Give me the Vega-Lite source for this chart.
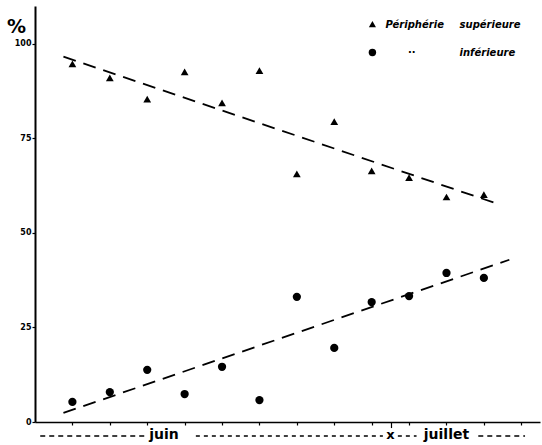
{
  "$schema": "https://vega.github.io/schema/vega-lite/v6.json",
  "width": 505,
  "height": 416,
  "autosize": {"type": "none"},
  "padding": {"left": 35, "top": 6, "right": 2, "bottom": 23},
  "background": "white",
  "config": {
    "view": {"stroke": null},
    "font": "DejaVu Sans"
  },
  "datasets": {
    "mesures": [
      {"jour": 1, "pct": 94.7, "serie": "sup"},
      {"jour": 2, "pct": 91.0, "serie": "sup"},
      {"jour": 3, "pct": 85.4, "serie": "sup"},
      {"jour": 4, "pct": 92.6, "serie": "sup"},
      {"jour": 5, "pct": 84.4, "serie": "sup"},
      {"jour": 6, "pct": 92.9, "serie": "sup"},
      {"jour": 7, "pct": 65.6, "serie": "sup"},
      {"jour": 8, "pct": 79.4, "serie": "sup"},
      {"jour": 9, "pct": 66.4, "serie": "sup"},
      {"jour": 10, "pct": 64.6, "serie": "sup"},
      {"jour": 11, "pct": 59.5, "serie": "sup"},
      {"jour": 12, "pct": 60.1, "serie": "sup"},
      {"jour": 1, "pct": 5.3, "serie": "inf"},
      {"jour": 2, "pct": 7.9, "serie": "inf"},
      {"jour": 3, "pct": 13.8, "serie": "inf"},
      {"jour": 4, "pct": 7.4, "serie": "inf"},
      {"jour": 5, "pct": 14.6, "serie": "inf"},
      {"jour": 6, "pct": 5.8, "serie": "inf"},
      {"jour": 7, "pct": 33.1, "serie": "inf"},
      {"jour": 8, "pct": 19.6, "serie": "inf"},
      {"jour": 9, "pct": 31.7, "serie": "inf"},
      {"jour": 10, "pct": 33.3, "serie": "inf"},
      {"jour": 11, "pct": 39.4, "serie": "inf"},
      {"jour": 12, "pct": 38.1, "serie": "inf"}
    ],
    "tendances": [
      {"jour": 0.76, "pct": 96.6, "serie": "sup"},
      {"jour": 12.36, "pct": 57.7, "serie": "sup"},
      {"jour": 0.76, "pct": 2.4, "serie": "inf"},
      {"jour": 12.68, "pct": 42.9, "serie": "inf"}
    ]
  },
  "layer": [
    {
      "data": {"name": "mesures"},
      "mark": {"type": "point", "filled": true, "color": "black", "opacity": 1},
      "encoding": {
        "x": {
          "field": "jour", "type": "quantitative",
          "scale": {"domain": [0, 13.5], "nice": false, "zero": false},
          "axis": {
            "values": [1, 2, 3, 4, 5, 6, 7, 8, 9, 10, 11, 12, 13],
            "labels": false, "title": null, "grid": false,
            "domainColor": "black", "domainWidth": 1.5,
            "tickColor": "black", "tickWidth": 1.2, "tickSize": 3
          }
        },
        "y": {
          "field": "pct", "type": "quantitative",
          "scale": {"domain": [0, 110], "nice": false},
          "axis": {
            "values": [0, 25, 50, 75, 100],
            "grid": false,
            "domainColor": "black", "domainWidth": 2,
            "tickColor": "black", "tickWidth": 1.2, "tickSize": 3,
            "labelFont": "DejaVu Sans", "labelFontWeight": "bold", "labelFontSize": 8,
            "labelColor": "black", "labelPadding": 1,
            "title": "%", "titleAngle": 0, "titleFontSize": 19, "titleFontWeight": "bold",
            "titleColor": "black", "titleAlign": "center", "titleBaseline": "alphabetic",
            "titleX": -19, "titleY": 26
          }
        },
        "shape": {
          "field": "serie", "type": "nominal",
          "scale": {"domain": ["sup", "inf"], "range": ["triangle-up", "circle"]},
          "legend": null
        },
        "size": {
          "field": "serie", "type": "nominal",
          "scale": {"domain": ["sup", "inf"], "range": [60, 68]},
          "legend": null
        }
      }
    },
    {
      "data": {"name": "tendances"},
      "mark": {"type": "line", "color": "black", "strokeWidth": 1.8, "strokeDash": [13, 8]},
      "encoding": {
        "x": {"field": "jour", "type": "quantitative"},
        "y": {"field": "pct", "type": "quantitative"},
        "detail": {"field": "serie", "type": "nominal"}
      }
    },
    {
      "data": {"values": [{}]},
      "mark": {"type": "rule", "color": "black", "strokeWidth": 1.3, "strokeDash": [5, 4]},
      "encoding": {"x": {"datum": 0.14}, "x2": {"datum": 3.0}, "y": {"datum": -3.7}}
    },
    {
      "data": {"values": [{}]},
      "mark": {"type": "rule", "color": "black", "strokeWidth": 1.3, "strokeDash": [4, 4]},
      "encoding": {"x": {"datum": 4.3}, "x2": {"datum": 9.3}, "y": {"datum": -3.7}}
    },
    {
      "data": {"values": [{}]},
      "mark": {"type": "rule", "color": "black", "strokeWidth": 1.3, "strokeDash": [4, 4]},
      "encoding": {"x": {"datum": 9.7}, "x2": {"datum": 10.2}, "y": {"datum": -3.7}}
    },
    {
      "data": {"values": [{}]},
      "mark": {"type": "rule", "color": "black", "strokeWidth": 1.3, "strokeDash": [5, 4]},
      "encoding": {"x": {"datum": 11.85}, "x2": {"datum": 13.1}, "y": {"datum": -3.7}}
    },
    {
      "data": {"values": [{}]},
      "mark": {"type": "rule", "color": "black", "strokeWidth": 1.2},
      "encoding": {"x": {"datum": 9.53}, "y": {"datum": 0}, "y2": {"datum": -1.6}}
    },
    {
      "data": {"values": [{}]},
      "mark": {"type": "text", "text": "juin", "font": "DejaVu Sans", "fontWeight": "bold", "fontSize": 14, "align": "center", "baseline": "alphabetic", "color": "black"},
      "encoding": {"x": {"datum": 3.45}, "y": {"datum": -4.6}}
    },
    {
      "data": {"values": [{}]},
      "mark": {"type": "text", "text": "x", "font": "DejaVu Sans", "fontWeight": "bold", "fontSize": 13, "align": "center", "baseline": "alphabetic", "color": "black"},
      "encoding": {"x": {"datum": 9.5}, "y": {"datum": -4.6}}
    },
    {
      "data": {"values": [{}]},
      "mark": {"type": "text", "text": "juillet", "font": "DejaVu Sans", "fontWeight": "bold", "fontSize": 14, "align": "center", "baseline": "alphabetic", "color": "black"},
      "encoding": {"x": {"datum": 11.0}, "y": {"datum": -4.6}}
    },
    {
      "data": {"values": [{}]},
      "mark": {"type": "point", "shape": "triangle-up", "filled": true, "color": "black", "opacity": 1, "size": 50},
      "encoding": {"x": {"datum": 9.02}, "y": {"datum": 105.2}}
    },
    {
      "data": {"values": [{}]},
      "mark": {"type": "point", "shape": "circle", "filled": true, "color": "black", "opacity": 1, "size": 55},
      "encoding": {"x": {"datum": 9.02}, "y": {"datum": 97.7}}
    },
    {
      "data": {"values": [{}]},
      "mark": {"type": "text", "text": "Périphérie", "font": "DejaVu Sans", "fontWeight": "bold", "fontStyle": "italic", "fontSize": 10, "align": "left", "baseline": "middle", "color": "black"},
      "encoding": {"x": {"datum": 9.37}, "y": {"datum": 105.0}}
    },
    {
      "data": {"values": [{}]},
      "mark": {"type": "text", "text": "supérieure", "font": "DejaVu Sans", "fontWeight": "bold", "fontStyle": "italic", "fontSize": 10, "align": "left", "baseline": "middle", "color": "black"},
      "encoding": {"x": {"datum": 11.35}, "y": {"datum": 105.0}}
    },
    {
      "data": {"values": [{}]},
      "mark": {"type": "text", "text": "··", "font": "DejaVu Sans", "fontWeight": "bold", "fontSize": 10, "align": "center", "baseline": "middle", "color": "black"},
      "encoding": {"x": {"datum": 10.07}, "y": {"datum": 97.7}}
    },
    {
      "data": {"values": [{}]},
      "mark": {"type": "text", "text": "inférieure", "font": "DejaVu Sans", "fontWeight": "bold", "fontStyle": "italic", "fontSize": 10, "align": "left", "baseline": "middle", "color": "black"},
      "encoding": {"x": {"datum": 11.35}, "y": {"datum": 97.7}}
    }
  ]
}
